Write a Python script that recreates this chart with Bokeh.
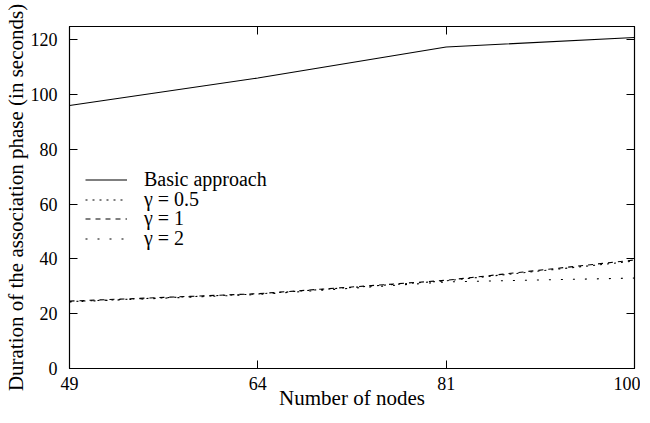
import numpy as np
from bokeh.plotting import figure
from bokeh.models import Range1d, FixedTicker, LinearAxis, Legend, LegendItem
from bokeh.embed import file_html
from bokeh.resources import INLINE

nodes = [49, 64, 81, 100]
basic = [96.0, 106.0, 117.3, 120.8]
gamma_05 = [24.4, 27.2, 32.0, 39.2]
gamma_1 = [24.6, 27.3, 32.2, 39.6]
gamma_2 = [24.3, 27.0, 31.6, 33.0]
y_ticks = [0, 20, 40, 60, 80, 100, 120]
labels = ["Basic approach", "γ = 0.5", "γ = 1", "γ = 2"]

FONT = "Liberation Serif"
xs = np.sqrt(np.array(nodes, dtype=float))

p = figure(width=642, height=407, output_backend="svg", toolbar_location=None,
           x_range=Range1d(xs[0], xs[-1]), y_range=Range1d(0, 124.8),
           min_border_left=63, min_border_right=6, min_border_top=26, min_border_bottom=39)
p.frame_width = 565
p.frame_height = 342
p.grid.visible = False
p.outline_line_color = "black"
p.outline_line_width = 1.2
p.background_fill_color = "white"
p.border_fill_color = "white"

xt = FixedTicker(ticks=list(xs))
overrides = {float(x): str(n) for x, n in zip(xs, nodes)}

def style(ax, show_labels=True):
    ax.axis_line_color = "black"
    ax.major_tick_in = 8
    ax.major_tick_out = 0
    ax.minor_tick_line_color = None
    ax.major_tick_line_color = "black"
    ax.major_label_text_font = FONT
    ax.major_label_text_font_size = "18px" if show_labels else "0px"
    ax.major_label_text_color = "black"
    ax.axis_label_text_font = FONT
    ax.axis_label_text_font_size = "21px"
    ax.axis_label_text_font_style = "normal"
    ax.axis_label_text_color = "black"

xa = p.xaxis[0]
xa.ticker = xt
xa.major_label_overrides = overrides
xa.axis_label = "Number of nodes"
style(xa)
xa.major_label_standoff = 8
xa.axis_label_standoff = -7

ya = p.yaxis[0]
ya.ticker = FixedTicker(ticks=y_ticks)
ya.axis_label = "Duration of the association phase (in seconds)"
style(ya)
ya.major_label_standoff = 12
ya.axis_label_standoff = 0

ra = LinearAxis(ticker=FixedTicker(ticks=y_ticks))
style(ra, show_labels=False)
ra.major_label_standoff = 0
p.add_layout(ra, "right")

ta = LinearAxis(ticker=xt)
style(ta, show_labels=False)
ta.major_label_standoff = 0
p.add_layout(ta, "above")

r0 = p.line(xs, basic, line_color="black", line_width=1.1)
r1 = p.line(xs, gamma_05, line_color="black", line_width=1.1, line_dash="2 5")
r2 = p.line(xs, gamma_1, line_color="black", line_width=1.1, line_dash="5 5")
r3 = p.line(xs, gamma_2, line_color="black", line_width=1.1, line_dash="2 10")

# one legend per entry so the rows can sit as tightly as in the reference
row_offsets = [177, 157, 138, 118]
for lab, rend, off in zip(labels, [r0, r1, r2, r3], row_offsets):
    lg = Legend(items=[LegendItem(label=lab, renderers=[rend])], location=(16, off))
    lg.background_fill_alpha = 0
    lg.border_line_color = None
    lg.padding = 0
    lg.margin = 0
    lg.spacing = 0
    lg.label_height = 19
    lg.glyph_height = 19
    lg.glyph_width = 42
    lg.label_standoff = 17
    lg.label_text_font = FONT
    lg.label_text_font_size = "20px"
    lg.label_text_color = "black"
    p.add_layout(lg)

open("out.html", "w").write(file_html(p, INLINE))
